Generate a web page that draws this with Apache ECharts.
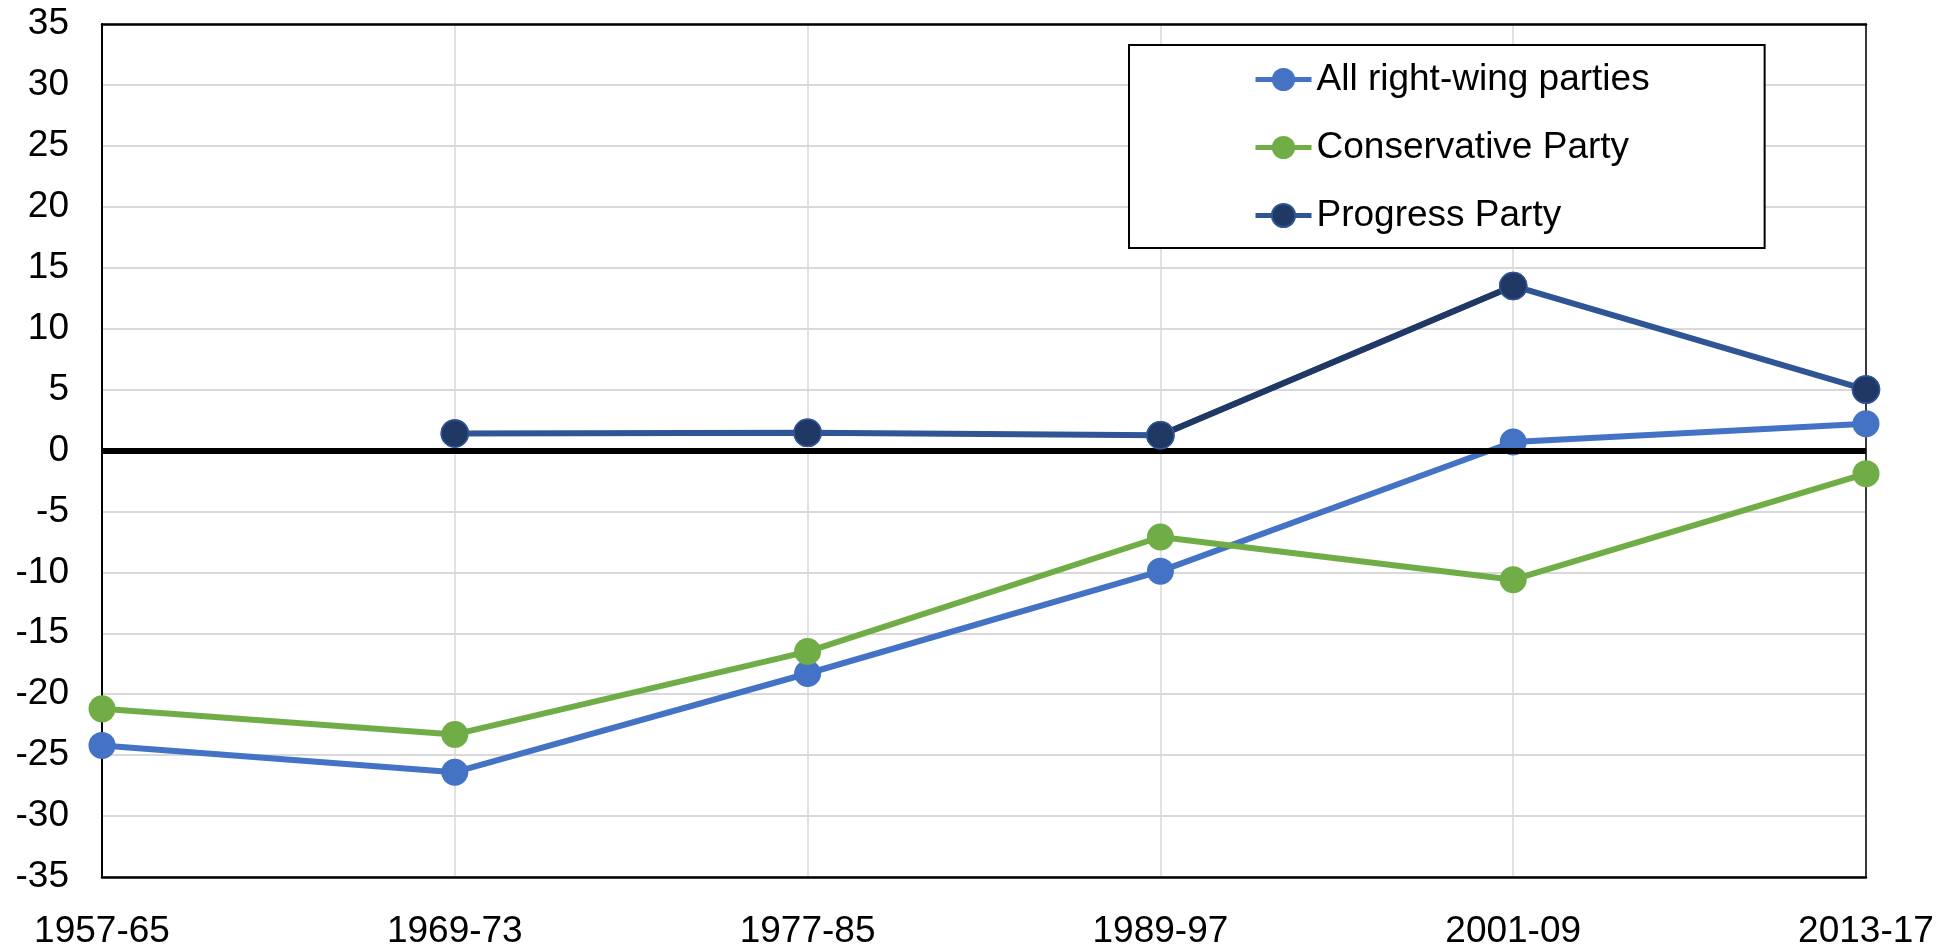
<!DOCTYPE html>
<html>
<head>
<meta charset="utf-8">
<script src="https://cdn.jsdelivr.net/npm/echarts@6/dist/echarts.min.js"></script>
<style>
html,body{margin:0;padding:0;background:#fff;}
#chart{width:1957px;height:951px;}
</style>
</head>
<body>
<div id="chart"></div>
<script>
const categories = ['1957-65', '1969-73', '1977-85', '1989-97', '2001-09', '2013-17'];
const allRightWing = [-24.2, -26.4, -18.3, -9.9, 0.7, 2.2];
const conservative = [-21.2, -23.3, -16.5, -7.1, -10.6, -1.9];
const progress = [null, 1.4, 1.45, 1.25, 13.5, 5.0];
const yTicks = { min: -35, max: 35, interval: 5 };

const FONT = '"Liberation Sans", Arial, sans-serif';
// dark segment of the Progress Party line (1989-97 -> 2001-09)
const progressDarkSeg = progress.map((v, i) => (i === 3 || i === 4) ? v : null);

const chart = echarts.init(document.getElementById('chart'));
chart.setOption({
  animation: false,
  backgroundColor: '#fff',
  grid: { left: 102, right: 91, top: 24, bottom: 74, containLabel: false },
  legend: {
    data: ['All right-wing parties', 'Conservative Party', 'Progress Party'],
    orient: 'vertical',
    left: 1129, top: 45,
    padding: [16, 115, 14, 124],
    itemWidth: 56, itemHeight: 29, itemGap: 31,
    borderColor: '#000', borderWidth: 2,
    backgroundColor: '#fff',
    lineStyle: { width: 5 },
    textStyle: { fontFamily: FONT, fontSize: 37, color: '#000', lineHeight: 37 }
  },
  xAxis: [{
    type: 'category', data: categories, boundaryGap: false,
    axisLine: { show: true, onZero: false, lineStyle: { color: '#000', width: 2.5 } }, axisTick: { show: false },
    axisLabel: { fontFamily: FONT, fontSize: 37, color: '#000', margin: 36, interval: 0 },
    splitLine: { show: true, lineStyle: { color: '#d9d9d9', width: 1.5 } }
  }, {
    type: 'category', data: categories, boundaryGap: false, position: 'top',
    axisLine: { show: true, onZero: false, lineStyle: { color: '#000', width: 2.5 } }, axisTick: { show: false },
    axisLabel: { show: false }, splitLine: { show: false }
  }],
  yAxis: [{
    type: 'value', min: yTicks.min, max: yTicks.max, interval: yTicks.interval,
    axisLine: { show: true, onZero: false, lineStyle: { color: '#000', width: 2 } }, axisTick: { show: false },
    axisLabel: { fontFamily: FONT, fontSize: 37, color: '#000', margin: 33 },
    splitLine: { show: true, lineStyle: { color: '#d9d9d9', width: 2 } }
  }, {
    type: 'value', min: yTicks.min, max: yTicks.max, interval: yTicks.interval, position: 'right',
    axisLine: { show: true, onZero: false, lineStyle: { color: '#000', width: 1.5 } }, axisTick: { show: false },
    axisLabel: { show: false }, splitLine: { show: false }
  }],
  series: [
    {
      name: 'zero', type: 'line', data: [], z: 1, silent: true,
      markLine: { silent: true, symbol: 'none', label: { show: false },
        lineStyle: { color: '#000', width: 6, type: 'solid' }, data: [{ yAxis: 0 }] }
    },
    {
      name: 'All right-wing parties', type: 'line', data: allRightWing, z: 3,
      symbol: 'circle', symbolSize: 27,
      lineStyle: { color: '#4472C4', width: 6 },
      itemStyle: { color: '#4472C4' }
    },
    {
      name: 'Conservative Party', type: 'line', data: conservative, z: 4,
      symbol: 'circle', symbolSize: 27,
      lineStyle: { color: '#70AD47', width: 6 },
      itemStyle: { color: '#70AD47' }
    },
    {
      name: 'Progress Party', type: 'line', data: progress, z: 5,
      symbol: 'circle', symbolSize: 27,
      lineStyle: { color: '#2F5597', width: 6 },
      itemStyle: { color: '#203864', borderColor: '#2F5597', borderWidth: 1.5 }
    },
    {
      name: 'progressSeg', type: 'line', data: progressDarkSeg, z: 5, silent: true,
      symbol: 'none', connectNulls: false,
      lineStyle: { color: '#203864', width: 6 }
    },
    {
      name: 'progressMarks', type: 'line', data: progress, z: 6, silent: true,
      symbol: 'circle', symbolSize: 27, showAllSymbol: true,
      lineStyle: { width: 0, opacity: 0 },
      itemStyle: { color: '#203864', borderColor: '#2F5597', borderWidth: 1.5 }
    }
  ]
});
</script>
</body>
</html>
